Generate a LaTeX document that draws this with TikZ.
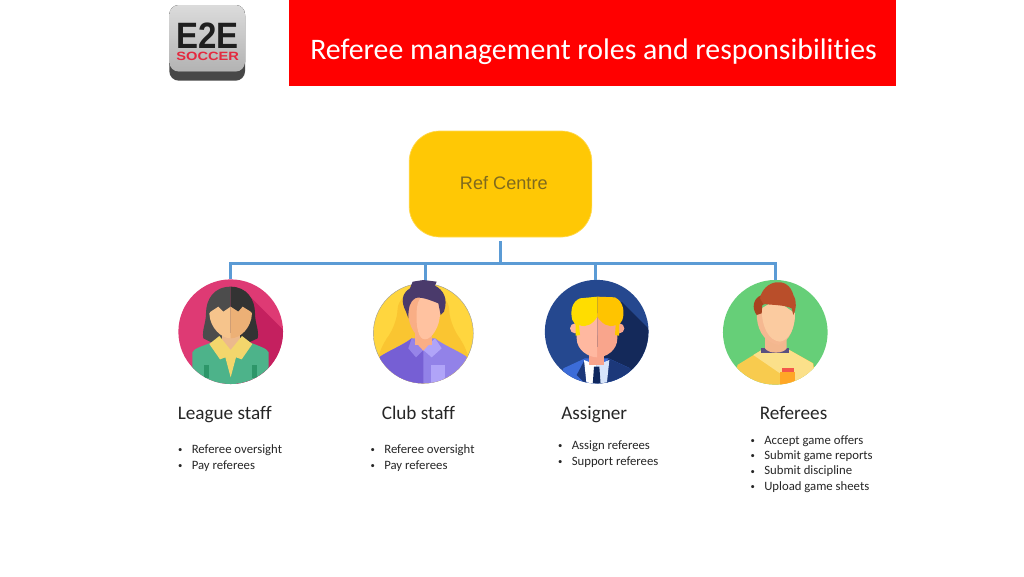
\documentclass[tikz,border=0pt]{standalone}
\usepackage{fontspec}
\setmainfont[RawFeature={-liga}]{Carlito}
\newfontfamily\arialfont{Liberation Sans}
\definecolor{BannerRed}{RGB}{255,0,0}
\definecolor{RefYellow}{RGB}{255,200,5}
\definecolor{RefText}{RGB}{127,106,30}
\definecolor{BusBlue}{RGB}{91,155,213}
\definecolor{BodyText}{RGB}{38,38,38}
\tikzset{
  busline/.style={draw=BusBlue,line width=2.25pt},
  avatar/.style={circle,inner sep=0pt,minimum size=#1},
  headlabel/.style={anchor=base west,text=BodyText,font=\fontsize{14.4}{16}\selectfont},
  duties/.style={anchor=west,align=left,inner sep=0pt,text=BodyText,font=\fontsize{9.55}{11.55}\selectfont},
  zoomed/.style={x=0.25pt,y=-0.25pt},
}
\newcommand{\duty}[1]{\makebox[10.9pt][l]{\hspace*{0.6pt}\raisebox{0.7pt}{\fontsize{6.5}{7}\selectfont\textbullet}}#1}

\begin{document}
\begin{tikzpicture}[x=0.75pt, y=-0.75pt]
\pgfmathsetmacro{\ybus}{263} % height of the blue bar
\useasboundingbox (0,0) rectangle (1024,576);
\fill[white] (0,0) rectangle (1024,576); %background

% logo
\begin{scope}[shift={(150,0)},zoomed]
\fill[black!72,rounded corners=7pt] (58,20) rectangle (285,242);
\fill[top color=black!14,bottom color=black!30,rounded corners=7pt] (58,15) rectangle (285,215);
\node[inner sep=0pt,text height=19.5pt,text depth=0pt,text=black!88,font=\arialfont\bfseries\fontsize{27.5}{28}\selectfont,xscale=0.9] (logomark) at (172,105) {E2E};
\node[inner sep=0pt,text height=6.4pt,text depth=0pt,text={rgb,255:red,228;green,41;blue,63},font=\arialfont\bfseries\fontsize{9}{10}\selectfont,xscale=1.22] (logoname) at (173,170) {SOCCER};
\end{scope}

% banner
\fill[BannerRed] (289,0) rectangle (896,86);
\node[anchor=base west,inner sep=0pt,text=white,font=\fontsize{22.35}{24}\selectfont] (title) at (310,59) {Referee management roles and responsibilities};

% top box
\node[fill=RefYellow,draw=RefYellow!70!white,line width=0.5pt,rounded corners=23pt,minimum width=137pt,minimum height=79.5pt,inner sep=0pt,text=RefText,font=\arialfont\fontsize{13.6}{15}\selectfont] (refcentre) at (500.5,184) {\hspace*{5pt}\raisebox{1.2pt}{Ref Centre}};

% circles
\node[avatar=78.5pt,fill={rgb,255:red,222;green,58;blue,116}] (league) at (230.7,331.7) {};
\node[avatar=75pt,fill={rgb,255:red,255;green,214;blue,62},draw=black!40,line width=0.3pt] (club) at (423.3,333.3) {};
\node[avatar=77.8pt,fill={rgb,255:red,37;green,72;blue,143}] (assigner) at (596.7,331.7) {};
\node[avatar=78.5pt,fill={rgb,255:red,102;green,207;blue,120}] (referees) at (775.3,332.3) {};

% bar and drops
\coordinate (tee) at (500.5,\ybus);
\coordinate (barleft) at (230.7,\ybus);
\coordinate (barright) at (775.3,\ybus);
\coordinate (clubdrop) at (425,\ybus);
\coordinate (assignerdrop) at (595,\ybus);
\draw[busline,shorten <=3pt] (refcentre.south) -- (tee);
\draw[busline,line cap=rect] (barleft) -- (barright);
\draw[busline] (barleft) -- (league.north);
\draw[busline] (clubdrop) -- (clubdrop |- club.north);
\draw[busline] (assignerdrop) -- (assignerdrop |- assigner.north);
\draw[busline] (barright) -- (referees.north);

% league staff figure
\begin{scope}[shift={(160,270)},zoomed]
\clip (212,185) circle (157);
\fill[fill={rgb,255:red,196;green,32;blue,95}] (265,75) -- (380,190) -- (380,345) -- (230,345) -- (230,200) -- cycle; %shadow
\fill[black!70] (212,50) .. controls (160,50) and (138,90) .. (138,130) .. controls (138,160) and (125,180) .. (130,205) -- (170,225) -- (212,225) -- cycle;
\fill[black!80] (212,50) .. controls (262,50) and (285,90) .. (285,130) .. controls (285,160) and (298,180) .. (293,205) -- (250,225) -- (212,225) -- cycle;
\fill[fill={rgb,255:red,77;green,179;blue,138}] (97,345) -- (97,247) .. controls (100,235) and (130,228) .. (160,215) -- (265,215) .. controls (295,228) and (322,235) .. (326,247) -- (326,345) -- cycle;
\fill[fill={rgb,255:red,236;green,185;blue,140}] (185,190) rectangle (240,240); %neck
\fill[fill={rgb,255:red,246;green,196;blue,140}] (212,110) -- (190,125) -- (175,110) -- (152,125) -- (148,130) .. controls (150,175) and (185,205) .. (212,205) -- cycle;
\fill[fill={rgb,255:red,236;green,176;blue,118}] (212,110) -- (235,125) -- (248,110) -- (272,125) -- (276,130) .. controls (274,175) and (240,205) .. (212,205) -- cycle;
\fill[fill={rgb,255:red,243;green,214;blue,108}] (148,222) -- (178,198) -- (212,240) -- (246,198) -- (277,222) -- (245,268) -- (228,262) -- (212,322) -- (196,262) -- (180,268) -- cycle;
\fill[fill={rgb,255:red,45;green,150;blue,105}] (133,285) rectangle (148,325);
\fill[fill={rgb,255:red,45;green,150;blue,105}] (277,285) rectangle (292,325);
\end{scope}

% club staff figure
\begin{scope}[shift={(160,270)},zoomed]
\begin{scope}
\clip (790,190) circle (150);
\fill[fill={rgb,255:red,250;green,197;blue,49},rounded corners=12pt] (715,70) -- (865,70) -- (870,170) -- (925,235) -- (935,345) -- (645,345) -- (655,235) -- (710,170) -- cycle;
\fill[fill={rgb,255:red,146;green,130;blue,232}] (650,345) -- (660,260) .. controls (690,240) and (730,225) .. (755,205) -- (825,205) .. controls (850,225) and (890,240) .. (920,260) -- (930,345) -- cycle;
\fill[fill={rgb,255:red,118;green,95;blue,212}] (650,345) -- (660,260) .. controls (690,240) and (730,225) .. (755,205) -- (790,240) -- (790,345) -- cycle;
\fill[fill={rgb,255:red,176;green,164;blue,248}] (812,285) rectangle (855,340);
\fill[fill={rgb,255:red,176;green,164;blue,248}] (790,240) -- (825,205) -- (845,235) -- (815,262) -- cycle;
\fill[fill={rgb,255:red,150;green,132;blue,232}] (790,240) -- (755,205) -- (745,235) -- (768,262) -- cycle;
\end{scope}
\fill[fill={rgb,255:red,249;green,174;blue,133}] (765,170) rectangle (815,225);
\fill[fill={rgb,255:red,249;green,174;blue,133}] (765,215) -- (790,242) -- (815,215) -- cycle;
\fill[fill={rgb,255:red,249;green,174;blue,133}] (790,70) .. controls (755,70) and (745,100) .. (745,130) .. controls (745,170) and (770,205) .. (790,205) -- cycle;
\fill[fill={rgb,255:red,255;green,194;blue,160}] (790,75) .. controls (830,75) and (840,100) .. (840,130) .. controls (840,170) and (815,208) .. (795,208) .. controls (775,208) and (768,170) .. (770,130) .. controls (770,105) and (775,85) .. (790,75) -- cycle;
\fill[fill={rgb,255:red,74;green,58;blue,107}] (738,125) .. controls (722,95) and (725,70) .. (750,55) -- (758,35) -- (790,30) -- (830,35) -- (825,47) .. controls (850,60) and (865,85) .. (852,125) -- (842,135) -- (835,100) .. controls (810,90) and (780,78) .. (765,85) .. controls (750,95) and (745,110) .. (745,145) -- cycle;
\end{scope}

% assigner figure
\begin{scope}[shift={(530,270)},zoomed]
\clip (200,185) circle (155);
\fill[fill={rgb,255:red,20;green,41;blue,90}] (275,95) -- (365,185) -- (365,345) -- (200,345) -- (200,200) -- cycle;
\fill[fill={rgb,255:red,60;green,108;blue,216}] (90,345) -- (100,295) -- (165,265) -- (235,265) -- (300,295) -- (310,345) -- cycle;
\fill[fill={rgb,255:red,28;green,56;blue,122}] (200,345) -- (235,265) -- (300,295) -- (310,345) -- cycle;
\fill[fill={rgb,255:red,28;green,56;blue,122}] (140,315) -- (165,268) -- (170,345) -- cycle;
\fill[white] (162,270) -- (200,285) -- (200,345) -- (170,345) -- cycle;
\fill[fill={rgb,255:red,214;green,228;blue,250}] (238,270) -- (200,285) -- (200,345) -- (230,345) -- cycle;
\fill[fill={rgb,255:red,15;green,40;blue,95}] (192,290) -- (208,290) -- (212,345) -- (188,345) -- cycle;
\fill[fill={rgb,255:red,249;green,165;blue,140}] (178,230) rectangle (222,285);
\fill[fill={rgb,255:red,255;green,184;blue,160}] (135,175) circle (15);
\fill[fill={rgb,255:red,249;green,165;blue,140}] (268,175) circle (15);
\fill[fill={rgb,255:red,255;green,184;blue,160}] (202,130) -- (140,130) -- (140,205) .. controls (140,240) and (175,262) .. (202,262) -- cycle;
\fill[fill={rgb,255:red,249;green,165;blue,140}] (202,130) -- (262,130) -- (262,205) .. controls (262,240) and (230,262) .. (202,262) -- cycle;
\fill[fill={rgb,255:red,255;green,221;blue,0}] (202,80) -- (150,85) .. controls (125,95) and (120,125) .. (127,150) -- (137,165) -- (137,197) -- (150,195) -- (147,165) .. controls (170,175) and (190,160) .. (202,140) -- cycle;
\fill[fill={rgb,255:red,255;green,196;blue,0}] (202,80) -- (255,82) .. controls (280,95) and (285,125) .. (277,150) -- (267,165) -- (267,197) -- (255,195) -- (257,165) .. controls (235,175) and (215,160) .. (202,140) -- cycle;
\end{scope}

% referee figure
\begin{scope}[shift={(530,270)},zoomed]
\clip (736,187) circle (157);
\fill[fill={rgb,255:red,248;green,203;blue,78}] (618,345) -- (622,285) -- (695,240) -- (778,240) -- (850,280) -- (858,345) -- cycle;
\fill[fill={rgb,255:red,251;green,224;blue,138}] (670,255) -- (695,240) -- (778,240) -- (848,280) -- (858,345) -- (790,345) -- (750,310) -- cycle;
\fill[fill={rgb,255:red,90;green,80;blue,128}] (693,235) rectangle (778,250);
\fill[fill={rgb,255:red,243;green,183;blue,142}] (705,195) -- (770,195) -- (770,235) .. controls (760,252) and (715,252) .. (705,235) -- cycle;
\fill[fill={rgb,255:red,245;green,184;blue,145}] (736,90) -- (680,130) .. controls (680,170) and (695,215) .. (745,225) .. controls (780,215) and (795,170) .. (795,130) -- cycle;
\fill[fill={rgb,255:red,251;green,203;blue,160}] (736,90) -- (695,115) .. controls (695,170) and (715,212) .. (750,215) .. controls (780,210) and (795,170) .. (795,130) -- cycle;
\fill[fill={rgb,255:red,168;green,67;blue,31}] (680,135) .. controls (665,115) and (668,85) .. (695,75) -- (720,95) -- (697,105) -- (695,130) -- cycle;
\fill[fill={rgb,255:red,185;green,78;blue,42}] (690,85) .. controls (700,30) and (775,15) .. (790,75) .. controls (802,95) and (798,120) .. (790,135) -- (785,115) .. controls (765,105) and (730,105) .. (700,102) -- cycle;
\fill[fill={rgb,255:red,255;green,167;blue,38}] (750,305) rectangle (795,345);
\fill[fill={rgb,255:red,244;green,87;blue,74}] (757,293) rectangle (793,306);
\end{scope}

\node[headlabel,inner sep=0pt] (leaguelabel) at (177.5,419) {League staff};
\node[headlabel,inner sep=0pt] (clublabel) at (381.5,419) {Club staff};
\node[headlabel,inner sep=0pt] (assignerlabel) at (561,419) {Assigner};
\node[headlabel,inner sep=0pt] (refereeslabel) at (759.5,419) {Referees};

\node[duties] (leagueduties) at (177,458) {\duty{Referee oversight}\\\duty{Pay referees}};
\node[duties] (clubduties) at (369.5,458) {\duty{Referee oversight}\\\duty{Pay referees}};
\node[duties] (assignerduties) at (557,454) {\duty{Assign referees}\\\duty{Support referees}};
\node[duties] (refereesduties) at (749.5,464) {\duty{Accept game offers}\\\duty{Submit game reports}\\\duty{Submit discipline}\\\duty{Upload game sheets}};

\end{tikzpicture}
\end{document}
